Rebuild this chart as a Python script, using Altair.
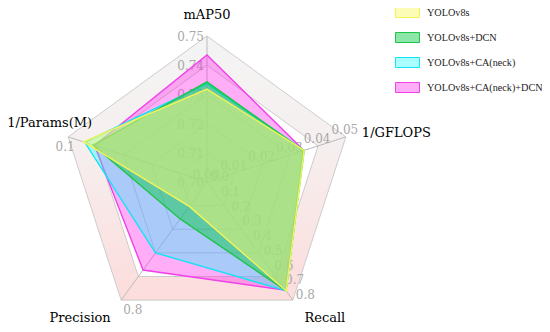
import math
import altair as alt
import pandas as pd

# ---------------- data ----------------
axes = ["mAP50", "1/GFLOPS", "Recall", "Precision", "1/Params(M)"]
axis_angle_deg = [90, 18, -54, -126, 162]
axis_min = [0.70, 0.0, 0.0, 0.0, 0.0]
axis_max = [0.75, 0.05, 0.8, 0.8, 0.1]

series = ["YOLOv8s", "YOLOv8s+DCN", "YOLOv8s+CA(neck)", "YOLOv8s+CA(neck)+DCN"]
v_yolo = [0.7318, 0.0350, 0.738, 0.165, 0.089]
v_dcn = [0.7343, 0.0347, 0.737, 0.250, 0.082]
v_ca = [0.7337, 0.0350, 0.736, 0.480, 0.088]
v_cadcn = [0.7435, 0.0349, 0.733, 0.596, 0.081]
values = [v_yolo, v_dcn, v_ca, v_cadcn]

fill_colors = ["rgba(250,250,110,0.50)", "rgba(0,200,60,0.45)",
               "rgba(20,255,255,0.36)", "rgba(255,40,235,0.38)"]
stroke_colors = ["#f4f455", "#1fc44a", "#12e4f4", "#f040ea"]

tick_labels = {
    "mAP50": ["0.70", "0.71", "0.72", "0.73", "0.74", "0.75"],
    "1/GFLOPS": ["0.00", "0.01", "0.02", "0.03", "0.04", "0.05"],
    "Recall": ["0.0", "0.1", "0.2", "0.3", "0.4", "0.5", "0.6", "0.7", "0.8"],
    "Precision": ["0.8"],
    "1/Params(M)": ["0.1"],
}
ring_levels = [0.2, 0.4, 0.6, 0.8, 1.0]

# ---------------- geometry helpers ----------------
R = 146.0
W, H = 534, 316
CX, CY = 199.0, 174.0
xs = alt.Scale(domain=[-CX / R, (W - CX) / R], nice=False, zero=False)
ys = alt.Scale(domain=[-(H - CY) / R, CY / R], nice=False, zero=False)


def X(f):
    return alt.X(f, type="quantitative", scale=xs, axis=None)


def Y(f):
    return alt.Y(f, type="quantitative", scale=ys, axis=None)


def unit(k):
    a = math.radians(axis_angle_deg[k])
    return math.cos(a), math.sin(a)


# split area band (outer ring with hole)
band_rows = []
o = 0
for k in list(range(5)) + [0]:
    c, s = unit(k)
    band_rows.append({"x": c, "y": s, "o": o}); o += 1
for k in [0, 4, 3, 2, 1, 0]:
    c, s = unit(k)
    band_rows.append({"x": 0.8 * c, "y": 0.8 * s, "o": o}); o += 1
band_df = pd.DataFrame(band_rows)

ring_rows = []
for lv in ring_levels:
    for k in range(5):
        c, s = unit(k)
        ring_rows.append({"lv": lv, "x": lv * c, "y": lv * s, "o": k})
ring_df = pd.DataFrame(ring_rows)

spoke_df = pd.DataFrame([{"x": 0.0, "y": 0.0, "x2": unit(k)[0], "y2": unit(k)[1]} for k in range(5)])

poly_rows = []
for name, vals in zip(series, values):
    for k in range(5):
        frac = (vals[k] - axis_min[k]) / (axis_max[k] - axis_min[k])
        c, s = unit(k)
        poly_rows.append({"series": name, "axis": axes[k], "x": frac * c, "y": frac * s, "o": k})
poly_df = pd.DataFrame(poly_rows)

tick_rows = []
for k, ax in enumerate(axes):
    labs = tick_labels[ax]
    n = len(labs) - 1
    c, s = unit(k)
    if n == 0:
        tick_rows.append({"axis": ax, "t": labs[0], "x": c, "y": s})
    else:
        for i, t in enumerate(labs):
            f = i / n
            tick_rows.append({"axis": ax, "t": t, "x": f * c, "y": f * s})
tick_df = pd.DataFrame(tick_rows)

name_df = pd.DataFrame([{"axis": ax, "x": unit(k)[0], "y": unit(k)[1]} for k, ax in enumerate(axes)])

# ---------------- layers ----------------
band = alt.Chart(band_df).mark_line(
    fill=alt.LinearGradient(
        gradient="linear", x1=0, x2=0, y1=0, y2=1,
        stops=[alt.GradientStop(color="#f4f4f4", offset=0),
               alt.GradientStop(color="#f6efef", offset=0.42),
               alt.GradientStop(color="#fddcdc", offset=1)]),
    strokeOpacity=0,
).encode(x=X("x"), y=Y("y"), order="o:Q")

rings = alt.Chart(ring_df).mark_line(
    interpolate="linear-closed", stroke="#cccccc", strokeWidth=1
).encode(x=X("x"), y=Y("y"), detail="lv:N", order="o:Q")

spokes = alt.Chart(spoke_df).mark_rule(color="#bbbbbb", strokeWidth=1).encode(
    x=X("x"), y=Y("y"), x2="x2", y2="y2")

tick_style = {
    "mAP50": dict(align="right", dx=-3, dy=1),
    "1/GFLOPS": dict(align="center", dx=-1, dy=-7),
    "Recall": dict(align="left", dx=3, dy=-5),
    "Precision": dict(align="left", dx=2, dy=10),
    "1/Params(M)": dict(align="center", dx=-3, dy=10),
}
tick_layers = []
for ax in axes:
    st = tick_style[ax]
    tick_layers.append(
        alt.Chart(tick_df).transform_filter(alt.datum.axis == ax).mark_text(
            font="DejaVu Serif", fontSize=12, color="#a8a8a8", baseline="middle", **st
        ).encode(x=X("x"), y=Y("y"), text="t:N")
    )

fill_scale = alt.Scale(domain=series, range=fill_colors)
stroke_scale = alt.Scale(domain=series, range=stroke_colors)
legend = alt.Legend(
    title=None, orient="none", legendX=387, legendY=-8,
    symbolType="M-1,-0.4167H1V0.4167H-1Z", symbolSize=576, symbolStrokeWidth=1,
    labelFont="Liberation Serif", labelFontSize=10.2, labelColor="#222222",
    labelOffset=7, rowPadding=5, padding=0,
)
poly_layers = []
for name in reversed(series):
    poly_layers.append(
        alt.Chart(poly_df).transform_filter(alt.datum.series == name).mark_line(
            interpolate="linear-closed", strokeWidth=1.4
        ).encode(
            x=X("x"), y=Y("y"), order="o:Q",
            fill=alt.Fill("series:N", scale=fill_scale, legend=legend),
            stroke=alt.Stroke("series:N", scale=stroke_scale, legend=legend),
        )
    )

name_style = {
    "mAP50": dict(align="center", dx=0, dy=-21),
    "1/GFLOPS": dict(align="left", dx=16, dy=-4),
    "Recall": dict(align="center", dx=32, dy=18),
    "Precision": dict(align="center", dx=-41, dy=18),
    "1/Params(M)": dict(align="right", dx=24, dy=-14),
}
name_layers = []
for ax in axes:
    name_layers.append(
        alt.Chart(name_df).transform_filter(alt.datum.axis == ax).mark_text(
            font="DejaVu Serif", fontSize=13, color="#000000",
            baseline="middle", **name_style[ax]
        ).encode(x=X("x"), y=Y("y"), text="axis:N")
    )

chart = alt.layer(band, rings, spokes, *tick_layers, *poly_layers, *name_layers).properties(
    width=W, height=H, padding=0, autosize="none"
).configure_view(stroke=None)

chart.save("out.html", embed_options={"renderer": "svg", "actions": False})
